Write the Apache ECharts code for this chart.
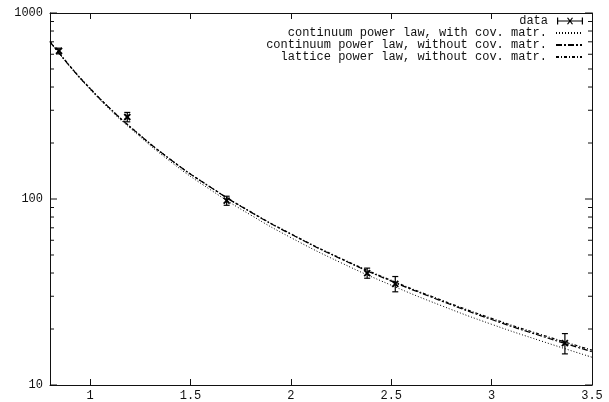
<!DOCTYPE html>
<html>
<head>
<meta charset="utf-8">
<script src="https://cdn.jsdelivr.net/npm/echarts@6/dist/echarts.min.js"></script>
<style>
  html, body { margin: 0; padding: 0; background: #fff; }
  #chart { width: 609px; height: 402px; }
</style>
</head>
<body>
<div id="chart"></div>
<script>
// measured points (x, value, error)
var dataX = [0.845, 1.185, 1.68, 2.38, 2.52, 3.365]
var dataY = [625, 276, 98, 40, 35, 16.8]
var dataErr = [22, 16, 5.5, 2.5, 3.3, 2.1]

// fitted curves
var curveX = [0.8, 0.9, 1.0, 1.1, 1.2, 1.4, 1.6, 1.8, 2.0, 2.25, 2.5, 2.75, 3.0, 3.25, 3.5]
var contCov = [700, 513, 388, 301, 240, 159, 112, 82, 62, 45.4, 34.4, 26.7, 21.2, 17.2, 14.1]
var contNoCov = [700, 516, 392, 306, 244, 163, 115.5, 85, 64.7, 47.6, 36.2, 28.3, 22.5, 18.3, 15.1]
var lattNoCov = [705, 518, 393, 306, 244, 163, 115.8, 85.3, 65, 47.9, 36.5, 28.6, 22.8, 18.6, 15.4]

var names = ['data', 'continuum power law, with cov. matr.', 'continuum power law, without cov. matr.', 'lattice power law, without cov. matr.']

var xTicks = [1, 1.5, 2, 2.5, 3, 3.5]
var yMajor = [10, 100, 1000]
var yMinor = [20, 30, 40, 50, 60, 70, 80, 90, 200, 300, 400, 500, 600, 700, 800, 900]

var FONT = 'Liberation Mono'
var INK = '#111'

var chart = echarts.init(document.getElementById('chart'), null, { renderer: 'canvas' })

function pairs(ys) {
  return curveX.map(function (x, i) { return [x, ys[i]] })
}

function fmt(v) { return String(v) }

function xAxisCfg(pos, labels) {
  return {
    type: 'value', min: 0.8, max: 3.5, position: pos,
    axisLine: { show: true, onZero: false, lineStyle: { color: INK, width: 1 } },
    splitLine: { show: false },
    axisTick: { show: true, inside: true, length: 6, customValues: xTicks, lineStyle: { color: INK, width: 1 } },
    axisLabel: { show: labels, customValues: xTicks, formatter: fmt, margin: 5, fontFamily: FONT, fontSize: 12, color: INK }
  }
}

function yAxisCfg(pos, labels) {
  return {
    type: 'log', logBase: 10, min: 10, max: 1000, position: pos,
    axisLine: { show: true, onZero: false, lineStyle: { color: INK, width: 1 } },
    splitLine: { show: false },
    minorTick: { show: false },
    axisTick: { show: false },
    axisLabel: { show: labels, customValues: yMajor, formatter: fmt, margin: 7, fontFamily: FONT, fontSize: 12, color: INK }
  }
}

// log-axis ticks, inside, on both sides
function yTickRender(len) {
  return function (params, api) {
    var p = api.coord([1, api.value(1)])
    var cs = params.coordSys
    var st = { stroke: INK, lineWidth: 1 }
    var r = cs.x + cs.width
    return {
      type: 'group',
      children: [
        { type: 'line', shape: { x1: cs.x, y1: p[1], x2: cs.x + len, y2: p[1] }, style: st },
        { type: 'line', shape: { x1: r, y1: p[1], x2: r - len, y2: p[1] }, style: st }
      ]
    }
  }
}

// error bar + cross marker
function renderErr(params, api) {
  var x = api.value(0), y = api.value(1), e = api.value(2)
  var c = api.coord([x, y])
  var lo = api.coord([x, y - e])
  var hi = api.coord([x, y + e])
  var st = { stroke: '#000', lineWidth: 1.2 }
  var bold = { stroke: '#000', lineWidth: 1.8 }
  var h = 3, s = 3
  return {
    type: 'group',
    children: [
      { type: 'line', shape: { x1: c[0], y1: hi[1], x2: c[0], y2: lo[1] }, style: st },
      { type: 'line', shape: { x1: c[0] - h, y1: hi[1], x2: c[0] + h, y2: hi[1] }, style: st },
      { type: 'line', shape: { x1: c[0] - h, y1: lo[1], x2: c[0] + h, y2: lo[1] }, style: st },
      { type: 'line', shape: { x1: c[0] - s, y1: c[1] - s, x2: c[0] + s, y2: c[1] + s }, style: bold },
      { type: 'line', shape: { x1: c[0] - s, y1: c[1] + s, x2: c[0] + s, y2: c[1] - s }, style: bold }
    ]
  }
}

var dataIcon = 'path://M0,4h26v1h-26z M0,1h1.2v7h-1.2z M24.8,1h1.2v7h-1.2z M10,1.5l1,-0.5l5,6.5l-1,0.5z M15,1l1,0.5l-5,6.5l-1,-0.5z'

var legends = names.map(function (n, i) {
  var item = { name: n }
  if (i == 0) item.icon = dataIcon
  return {
    data: [item],
    right: 26, top: 15 + i * 12,
    align: 'right', orient: 'horizontal',
    itemWidth: 26, itemHeight: 8, padding: 0,
    selectedMode: false,
    itemStyle: i == 0 ? {} : { opacity: 0 },
    textStyle: { fontFamily: FONT, fontSize: 12, color: INK, padding: [0, 4, 0, 0] }
  }
})

var option = {
  animation: false,
  backgroundColor: '#fff',
  grid: { left: 50, right: 17, top: 13, bottom: 17 },
  legend: legends,
  xAxis: [xAxisCfg('bottom', true), xAxisCfg('top', false)],
  yAxis: [yAxisCfg('left', true), yAxisCfg('right', false)],
  series: [
    {
      name: 'yticks', type: 'custom', silent: true,
      renderItem: yTickRender(7), encode: { x: 0, y: 1 },
      data: yMajor.map(function (v) { return [1, v] })
    },
    {
      name: 'yminor', type: 'custom', silent: true,
      renderItem: yTickRender(4), encode: { x: 0, y: 1 },
      data: yMinor.map(function (v) { return [1, v] })
    },
    {
      name: names[0], type: 'custom', xAxisIndex: 0, yAxisIndex: 0,
      color: '#000', itemStyle: { color: '#000' },
      renderItem: renderErr,
      encode: { x: 0, y: 1 },
      data: dataX.map(function (x, i) { return [x, dataY[i], dataErr[i]] }),
      z: 5
    },
    {
      name: names[1], type: 'line', xAxisIndex: 0, yAxisIndex: 0,
      data: pairs(contCov), symbol: 'none', smooth: true, color: '#000',
      lineStyle: { color: '#000', width: 1, type: [1, 2] }
    },
    {
      name: names[2], type: 'line', xAxisIndex: 0, yAxisIndex: 0,
      data: pairs(contNoCov), symbol: 'none', smooth: true, color: '#000',
      lineStyle: { color: '#000', width: 1.2, type: [6, 2, 2, 2] }
    },
    {
      name: names[3], type: 'line', xAxisIndex: 0, yAxisIndex: 0,
      data: pairs(lattNoCov), symbol: 'none', smooth: true, color: '#000',
      lineStyle: { color: '#000', width: 1.2, type: [3, 2, 1, 2] }
    }
  ]
}

chart.setOption(option)
</script>
</body>
</html>
